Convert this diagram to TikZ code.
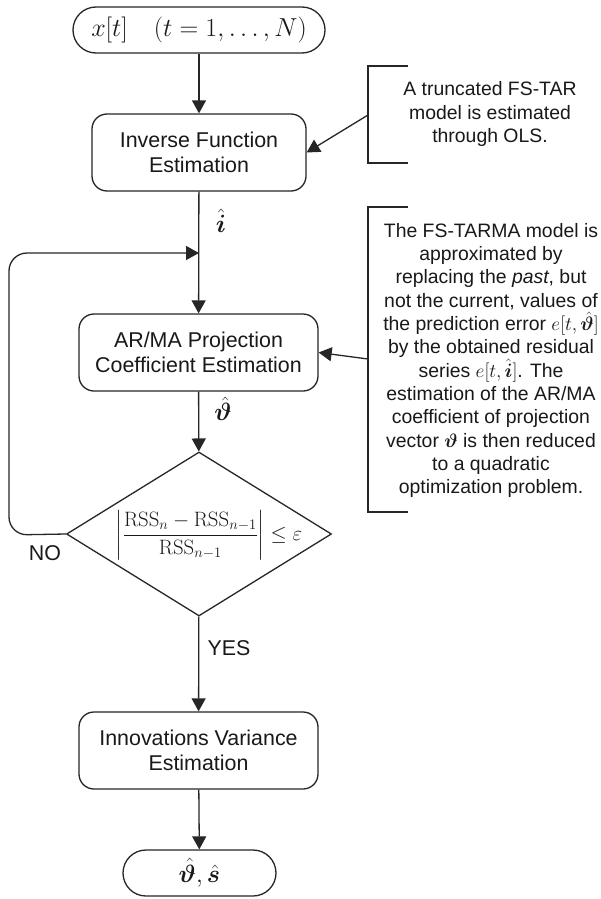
\RequirePackage{fix-cm}
\documentclass[tikz,border=0pt]{standalone}
\usepackage{amsmath}
\usepackage{bm}
\usepackage[no-math]{fontspec}
\setmainfont{Liberation Sans}
\usetikzlibrary{arrows.meta,shapes.geometric}
\begin{document}
\begin{tikzpicture}[x=1pt,y=-1pt,
  line/.style={draw=black!85, line width=1.3pt},
  arr/.style={line, -{Triangle[length=13pt,width=14pt]}},
  proc/.style={draw=black!85, line width=1.3pt, rectangle, rounded corners=15pt,
    align=center, inner sep=0pt, text=black!90,
    font=\fontsize{21.4}{25}\selectfont},
  term/.style={draw=black!85, line width=1.3pt, rectangle, rounded corners=23pt,
    minimum height=46pt, inner sep=0pt, text=black!90},
  side/.style={align=center, text=black!90, font=\fontsize{19.4}{23.3}\selectfont},
  lbl/.style={text=black!90, font=\fontsize{21.4}{25}\selectfont, inner sep=0pt}
]
\useasboundingbox[fill=white] (0,0) rectangle (601,899);

% main flow
\node[term, minimum width=252pt, font=\fontsize{26}{30}\selectfont] (start) at (199,30)
  {$x[t]\quad(t=1,\ldots,N)$};
\node[proc, minimum width=214pt, minimum height=77pt] (inv) at (199,152.5)
  {Inverse Function\\Estimation};
\node[proc, minimum width=239pt, minimum height=77pt] (proj) at (198.5,352.5)
  {AR/MA Projection\\Coefficient Estimation};
\node[draw=black!85, line width=1.3pt, diamond, minimum width=265pt, minimum height=164pt,
  inner sep=0pt] (dec) at (199,534) {};
\node[text=black!90, font=\fontsize{20.8}{24}\selectfont, inner sep=0pt] (crit) at (209,535)
  {$\displaystyle\left|\frac{\mathrm{RSS}_n-\mathrm{RSS}_{n-1}}{\mathrm{RSS}_{n-1}}\right|\leq\varepsilon$};
\node[proc, minimum width=239pt, minimum height=77pt] (var) at (198.5,750.5)
  {Innovations Variance\\Estimation};
\node[term, minimum width=153pt, font=\fontsize{25}{30}\selectfont] (fin) at (199.5,873)
  {$\hat{\bm\vartheta},\hat{\bm s}$};

% connectors
\draw[arr] (start) -- (inv);
\draw[arr] (inv) -- (proj);
\draw[arr] (proj) -- (dec);
\draw[arr] (dec) -- (var);
\draw[arr] (var) -- (fin);

\coordinate (loopin) at (199,253);
\draw[arr, rounded corners=18pt] (dec.west) -- (9,535) -- (9,253) -- (loopin);

% labels
\node[text=black!90, font=\fontsize{25}{30}\selectfont, inner sep=0pt] (ihat) at (221,221) {$\hat{\bm i}$};
\node[text=black!90, font=\fontsize{25}{30}\selectfont, inner sep=0pt] (thhat) at (223,409) {$\hat{\bm\vartheta}$};
\node[lbl] (no) at (45,553) {NO};
\node[lbl] (yes) at (229,648) {YES};

% side notes
\draw[line] (408,66) -- (368,66) -- (368,163) -- (408,163);
\coordinate (b1) at (368,115);
\draw[arr] (b1) -- (inv.east);
\node[side] (note1) at (490,114) {A truncated FS-TAR\\model is estimated\\through OLS.};

\draw[line] (408,207) -- (368,207) -- (368,512) -- (408,512);
\coordinate (b2) at (368,359);
\draw[arr] (b2) -- (proj.east);
\node[side] (note2) at (491,360.5) {The FS-TARMA model is\\approximated by\\replacing the \textit{past}, but\\not the current, values of\\the prediction error $e[t,\hat{\bm\vartheta}]$\\by the obtained residual\\series $e[t,\hat{\bm i}]$. The\\estimation of the AR/MA\\coefficient of projection\\vector $\bm\vartheta$ is then reduced\\to a quadratic\\optimization problem.};
\end{tikzpicture}
\end{document}
